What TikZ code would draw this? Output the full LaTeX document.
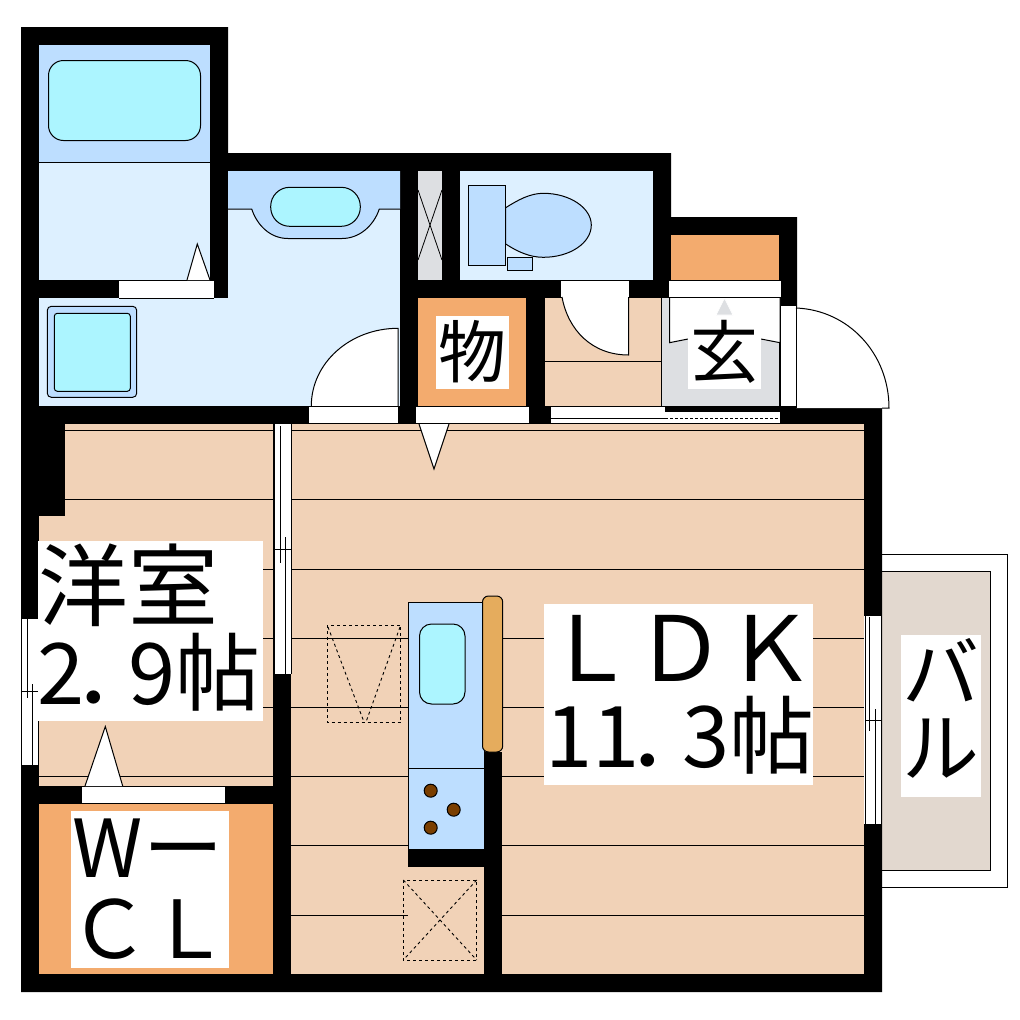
\documentclass[tikz,border=0pt]{standalone}
\usepackage{fontspec}
\setmainfont{Noto Sans CJK JP}
\definecolor{floorc}{HTML}{F1D2B7}
\definecolor{wet}{HTML}{DDF0FF}
\definecolor{fix}{HTML}{BDDEFF}
\definecolor{aqua}{HTML}{ACF5FF}
\definecolor{orangec}{HTML}{F3AB6E}
\definecolor{barc}{HTML}{E5AC5D}
\definecolor{grayc}{HTML}{DDDFE2}
\definecolor{balc}{HTML}{E2D8CF}
\definecolor{burner}{HTML}{7A3E00}
\tikzset{
 ln/.style={line width=1pt,black},
 thin line/.style={line width=0.8pt,black},
 dash line/.style={line width=0.9pt,black,dash pattern=on 3pt off 3pt},
 fixture/.style={fill=fix,draw=black,line width=1pt},
 basin/.style={fill=aqua,draw=black,line width=1pt},
 roomtext/.style={inner sep=0pt,font=\fontsize{#1}{#1}\selectfont},
 doorw/.style={fill=white,draw=black,line width=1pt},
}
\begin{document}
\begin{tikzpicture}[x=1pt,y=-1pt]
\useasboundingbox (0,0) rectangle (1020,1020);
\fill[white] (0,0) rectangle (1020,1020);
% balcony
\draw[ln,fill=white] (882,554.5) -- (1007,554.5) -- (1007,887) -- (882,887);
\draw[ln,fill=balc] (882,571.5) -- (990.5,571.5) -- (990.5,870) -- (882,870);
% building mass
\fill[black] (21,27) -- (228,27) -- (228,153) -- (671,153) -- (671,217) -- (797,217) -- (797,406) -- (882,406) -- (882,992) -- (21,992) -- cycle;
% bath
\fill[wet] (39,45) rectangle (210,280);
\fill[fix] (39,45) rectangle (210,162);
\draw[ln] (39,162) -- (210,162);
\draw[basin,rounded corners=15pt] (48.5,60.5) rectangle (200.5,140.5);
% wash room
\fill[wet] (228,171) rectangle (400,406);
\fill[wet] (39,298) rectangle (228,406);
\path[fill=fix] (228,171) -- (400,171) -- (400,209) -- (379.3,209) .. controls (374,225) and (360,238.5) .. (342,238.5) -- (288,238.5) .. controls (270,238.5) and (257,225) .. (251.7,209) -- (228,209) -- cycle;
\draw[ln] (228,209) -- (251.7,209) .. controls (257,225) and (270,238.5) .. (288,238.5) -- (342,238.5) .. controls (360,238.5) and (374,225) .. (379.3,209) -- (400,209);
\draw[basin,rounded corners=19pt] (270.7,187.3) rectangle (360.3,226.3);
\draw[fixture,rounded corners=4pt] (47.3,306.3) rectangle (136.7,397.3);
\draw[basin,rounded corners=3pt] (54.3,313.3) rectangle (130.3,391.3);
% gray shaft
\fill[grayc] (418,171) rectangle (442,280);
\draw[thin line] (418,190) -- (442,260) (442,190) -- (418,260);
% toilet
\fill[wet] (460,171) rectangle (653,280);
\draw[fixture] (505.7,207.7) .. controls (518,200) and (530,193.3) .. (543.3,193.3) .. controls (570,193.3) and (591.3,208) .. (591.3,225) .. controls (591.3,243) and (570,257.3) .. (543.3,257.3) .. controls (530,257.3) and (518,252) .. (505.7,244) -- cycle;
\draw[fixture] (468.3,185.3) rectangle (505.7,265.7);
\draw[fixture] (507.3,257.3) rectangle (532.7,270.7);
% closets
\fill[orangec] (671,235) rectangle (779,280);
\fill[orangec] (418,298) rectangle (526,406);
% hall
\fill[floorc] (545,298) rectangle (661.5,406);
\draw[ln] (545,361) -- (661.5,361);
% entrance
\fill[grayc] (661.5,298) rectangle (779,406);
\draw[ln] (661.5,298) -- (661.5,406);
\draw[fill=white,draw=none] (669.5,297) -- (780,297) -- (780,342.7) -- (761,339) -- (688,339) -- (669.5,342.7) -- cycle;
\draw[ln] (688,339) -- (669.5,342.7) -- (669.5,297);
\draw[ln] (761,339) -- (780,342.7) -- (780,297);
\path[fill=grayc,draw=white,line width=0.8pt] (716,315) -- (724.5,298) -- (733,315) -- cycle;
% floors
\fill[floorc] (291,424) rectangle (864,974);
\fill[floorc] (65,424) rectangle (273,786);
\fill[floorc] (39,516) rectangle (65,786);
\fill[orangec] (39,803.5) rectangle (273,974);
% floor boards
\foreach \yy in {430.5,499.5,569}{\draw[thin line] (65,\yy) -- (273,\yy); \draw[thin line] (291,\yy) -- (864,\yy);}
\foreach \yy in {638.5,707.5,776.5}{\draw[thin line] (39,\yy) -- (273,\yy); \draw[thin line] (291,\yy) -- (408,\yy); \draw[thin line] (502,\yy) -- (864,\yy);}
\foreach \yy in {845.5,915.5}{\draw[thin line] (291,\yy) -- (408,\yy); \draw[thin line] (501,\yy) -- (864,\yy);}
% kitchen
\fill[black] (408,849) rectangle (501.5,866.5);
\fill[black] (484,752) rectangle (501.5,974);
\draw[fixture] (408.3,602) rectangle (484,849);
\draw[ln] (408.3,768) -- (484,768);
\draw[basin,rounded corners=12pt] (419.5,624) rectangle (465,704);
\draw[fill=barc,draw=black,line width=1pt,rounded corners=6pt] (482.5,596) rectangle (502.7,752);
\foreach \xx/\yy in {430.7/790.7,453.7/809.7,430.7/827.7}{\draw[fill=burner,draw=black,line width=1pt] (\xx,\yy) circle (6.5);}
% fridge and dashed box
\draw[dash line] (327.3,625) rectangle (400.7,722.7);
\draw[dash line] (328,627) -- (364,722) (400,627) -- (366,722);
\draw[dash line] (403.3,880) rectangle (476.7,960);
\draw[dash line] (403.3,880) -- (476.7,960) (476.7,880) -- (403.3,960);
% doors and openings
\fill[white] (119,280) rectangle (214,298);
\draw[ln] (119,280) -- (214,280);
\draw[ln] (119,298) -- (214,298);
\path[doorw] (187,280) -- (197.3,244) -- (210,280);
\fill[white] (309,406) rectangle (398,423);
\path[doorw] (398,406) -- (398,328.3) .. controls (350,328.3) and (311.3,363) .. (311.3,406);
\draw[ln] (309,406) -- (398,406);
\fill[white] (561,280) rectangle (629,297);
\draw[ln] (561,280) -- (629,280) -- (629,297) -- (561,297);
\path[doorw] (628.5,297) -- (628.5,355) .. controls (592,355) and (568,330) .. (562,297);
\fill[white] (669,280) rectangle (781,297);
\draw[ln] (669,280) -- (781,280) (669,297) -- (781,297);
\fill[white] (416,406) rectangle (529,423);
\draw[ln] (416,406) -- (529,406) (416,423.5) -- (529,423.5);
\path[doorw] (419,424) -- (434,469) -- (449,424);
% sliding door
\fill[white] (550,406) rectangle (665,423);
\fill[white] (665,412) rectangle (780,423);
\draw[ln] (550,406) -- (665,406) (550,406) -- (550,423.5);
\draw[ln] (551,418) -- (665,418);
\draw[line width=0.8pt,black,dash pattern=on 3pt off 2pt] (665,418) -- (780,418);
\draw[ln] (551,423.5) -- (780,423.5);
% entry door
\fill[white] (781,306) rectangle (796,406);
\draw[ln] (780,306) -- (780,406);
\path[fill=white] (796,308) .. controls (848,310) and (889,353) .. (889,408) -- (796,408) -- cycle;
\draw[ln] (796,306) -- (796,408);
\draw[ln] (796,308) .. controls (848,310) and (889,353) .. (889,408) -- (882,408);
% bedroom door
\fill[white] (81,786) rectangle (225,803);
\draw[ln] (81,786) -- (225,786) (81,803) -- (225,803) (81,786) -- (81,803);
\path[doorw] (85,786) -- (105.3,726.5) -- (122.7,786);
% left window
\fill[white] (21.5,619) rectangle (38.5,765);
\draw[ln] (21.7,619) -- (21.7,765) (38.3,619) -- (38.3,765);
\draw[ln] (27,619) -- (27,698) (32.3,684) -- (32.3,765) (21.7,691) -- (38.3,691);
% middle window
\fill[white] (273.5,424) rectangle (291,674);
\draw[ln] (274,424) -- (274,674) (291,424) -- (291,674);
\draw[ln] (280,426) -- (280,563) (285,537) -- (285,674) (274,549.5) -- (291,549.5);
% right window
\fill[white] (864,616) rectangle (882,824);
\draw[ln] (865,616) -- (865,824) (881,616) -- (881,824);
\draw[ln] (869.3,617) -- (869.3,730.5) (875.5,709) -- (875.5,824) (865,720.5) -- (881,720.5);
% label boxes
\fill[white] (38,541) rectangle (263,721);
\fill[white] (71,811) rectangle (229,968);
\fill[white] (544,604) rectangle (813,785);
\fill[white] (901,635) rectangle (981,797);
\fill[white] (436,316) rectangle (509,388.5);
\fill[white] (688,316) rectangle (761,388.5);
% labels
\node[roomtext=90] (t1) at (128,585) {洋室};
\node[roomtext=85] (t2) at (149,672) {2\hspace{-12pt}．\hspace{-30pt}9帖};
\node[roomtext=80] (t3) at (148,848) {Wー};
\node[roomtext=80] (t4) at (149,929) {ＣＬ};
\node[roomtext=90] (t5) at (680,648) {ＬＤＫ};
\node[roomtext=85] (t6) at (680,735) {11\hspace{-12pt}．\hspace{-30pt}3帖};
\node[roomtext=77] (t7) at (941,670) {バ};
\node[roomtext=77] (t8) at (941,749) {ル};
\node[roomtext=68] (t9) at (472,352) {物};
\node[roomtext=68] (t10) at (724,352) {玄};
\end{tikzpicture}
\end{document}
